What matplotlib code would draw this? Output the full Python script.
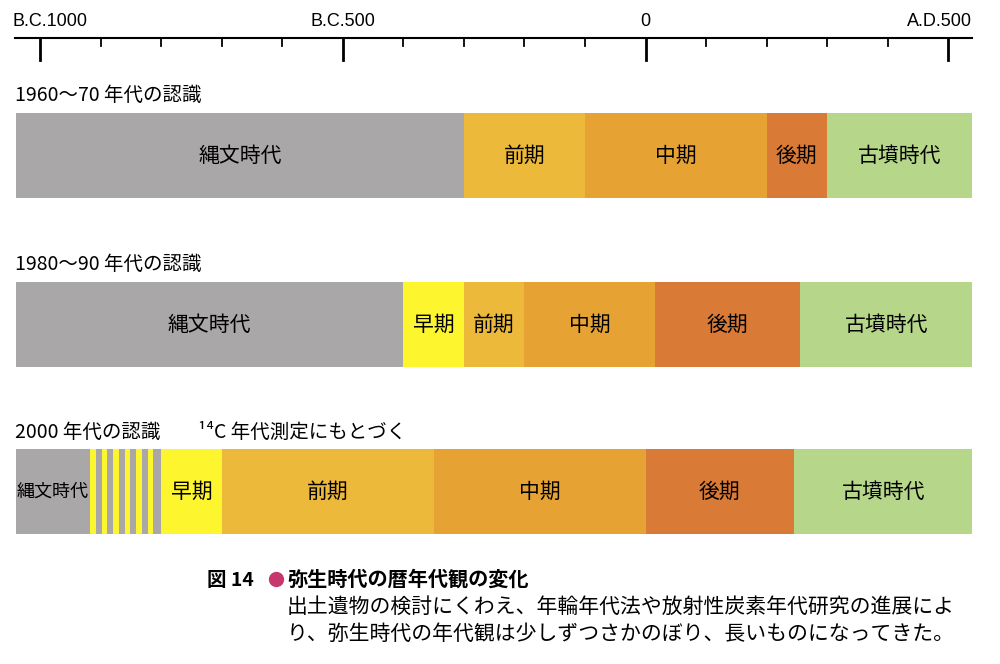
import matplotlib.pyplot as plt
from matplotlib import rc

rc('font', family='Noto Sans CJK JP')

# 時代区分 (年: 紀元前は負)
row_titles = ["1960～70 年代の認識", "1980～90 年代の認識", "2000 年代の認識"]
row_labels = [
    ["縄文時代", "前期", "中期", "後期", "古墳時代"],
    ["縄文時代", "早期", "前期", "中期", "後期", "古墳時代"],
    ["縄文時代", "", "早期", "前期", "中期", "後期", "古墳時代"],
]
row_bounds = [
    [-1040, -300, -100, 200, 300, 540],
    [-1040, -400, -300, -200, 15, 255, 540],
    [-1040, -917, -800, -700, -350, 0, 245, 540],
]
row_kinds = [
    ["jomon", "zenki", "chuki", "kouki", "kofun"],
    ["jomon", "souki", "zenki", "chuki", "kouki", "kofun"],
    ["jomon", "stripe", "souki", "zenki", "chuki", "kouki", "kofun"],
]
stripe_starts = [-917, -898, -879, -860, -841, -822]
stripe_width = 9
tick_years = [-1000, -500, 0, 500]
tick_labels = ["B.C.1000", "B.C.500", "0", "A.D.500"]

colors = {"jomon": "#a9a7a8", "souki": "#fdf52e", "zenki": "#ecb93a",
          "chuki": "#e6a333", "kouki": "#d97a36", "kofun": "#b6d68a",
          "stripe": "#a9a7a8"}

px_per_year = 0.6055
def yr(px):
    return (px - 40) / px_per_year - 1000

fig = plt.figure(figsize=(10, 6.64), dpi=100)
ax = fig.add_axes([0, 0, 1, 1])
ax.set_xlim(yr(0), yr(1000))
ax.set_ylim(664, 0)
ax.axis('off')

# 年代軸
ax.plot([yr(15), yr(972)], [38, 38], color='black', lw=1.5)
for y in range(-1000, 501, 100):
    major = y % 500 == 0
    ax.plot([y, y], [38, 60 if major else 46], color='black', lw=2 if major else 1.3)
for y, t in zip(tick_years, tick_labels):
    ha = 'center'
    if y == -1000:
        ha, x = 'left', yr(12)
    elif y == 500:
        ha, x = 'right', yr(972)
    else:
        x = y
    ax.text(x, 30, t, ha=ha, va='bottom', fontsize=13, family='Liberation Sans')

tops = [113, 282, 449]
title_y = [106, 275, 443]
h = 85
for i in range(3):
    ax.text(yr(15), title_y[i], row_titles[i], fontsize=14, va='bottom')
    b = row_bounds[i]
    for j, (lab, kind) in enumerate(zip(row_labels[i], row_kinds[i])):
        ax.bar(b[j], h, width=b[j + 1] - b[j], bottom=tops[i], align='edge',
               color=colors[kind], lw=0)
        if kind == "stripe":
            for s in stripe_starts:
                ax.bar(s, h, width=stripe_width, bottom=tops[i], align='edge',
                       color=colors["souki"], lw=0)
        if lab:
            ax.text((b[j] + b[j + 1]) / 2 if j > 0 or i < 2 else (yr(15) + b[1]) / 2,
                    tops[i] + h / 2, lab, ha='center', va='center',
                    fontsize=13 if i == 2 and j == 0 else 15)

ax.text(yr(198), 443, "¹⁴C 年代測定にもとづく", fontsize=14, va='bottom')

# キャプション
ax.text(yr(207), 590, "図 14", fontsize=14, fontweight='bold', va='bottom')
ax.plot([yr(276)], [579], 'o', color='#c8366e', ms=10)
ax.text(yr(287), 590, "弥生時代の暦年代観の変化", fontsize=14.5, fontweight='bold', va='bottom')
ax.text(yr(287), 618, "出土遺物の検討にくわえ、年輪年代法や放射性炭素年代研究の進展によ",
        fontsize=15, va='bottom')
ax.text(yr(287), 645, "り、弥生時代の年代観は少しずつさかのぼり、長いものになってきた。",
        fontsize=15, va='bottom')

fig.savefig("out.png", dpi=100, facecolor='white')
